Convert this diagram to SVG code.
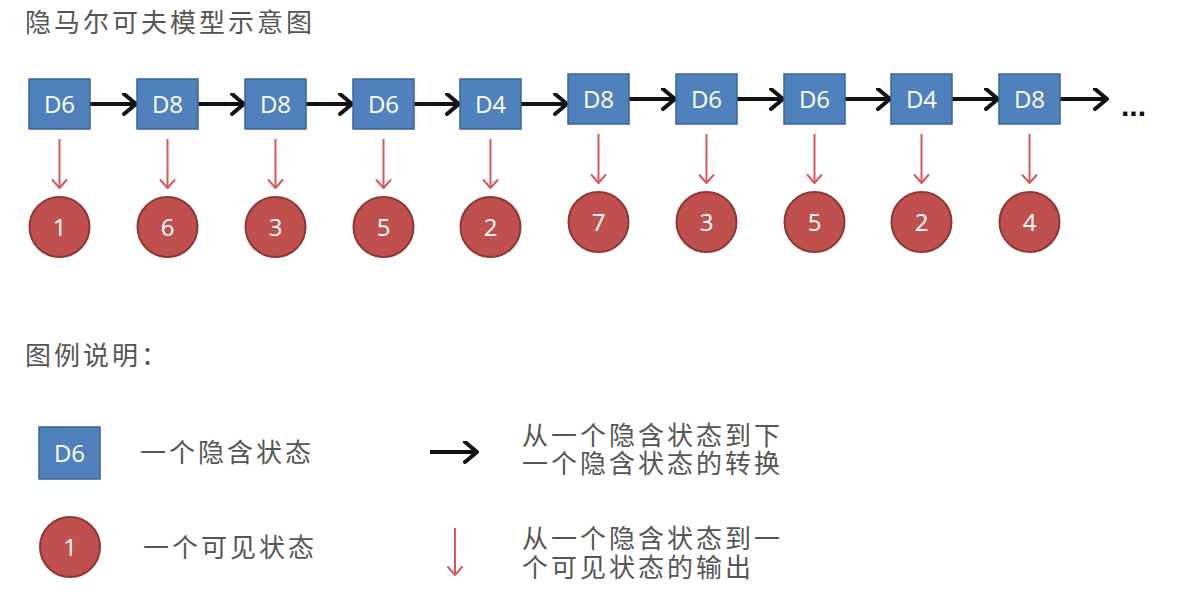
<svg xmlns="http://www.w3.org/2000/svg" width="1178" height="614" viewBox="0 0 1178 614">
<defs>
<style>
.box{fill:#4f81bd;stroke:#3a6496;stroke-width:1.5}
.obs{fill:#c0504d;stroke:#8c3836;stroke-width:2}
.lbl{font-family:"Open Sans","Liberation Sans",sans-serif;font-size:24px;fill:#ffffff;text-anchor:middle}
.cjk{font-family:"Noto Sans CJK SC","Noto Sans",sans-serif;font-size:26px;fill:#555555;letter-spacing:3px}
.tr{stroke:#111111;stroke-width:4;fill:none;marker-end:url(#ah)}
.em{stroke:#d65a5a;stroke-width:2;fill:none;marker-end:url(#rh)}
</style>
<marker id="ah" markerUnits="userSpaceOnUse" markerWidth="20" markerHeight="24" refX="14" refY="11" orient="auto" viewBox="0 0 20 24">
<path d="M2,1 L14,11 L2,21" fill="none" stroke="#111111" stroke-width="4" stroke-linecap="round" stroke-linejoin="round"/>
</marker>
<marker id="rh" markerUnits="userSpaceOnUse" markerWidth="20" markerHeight="20" refX="10" refY="8" orient="auto" viewBox="0 0 20 20">
<path d="M2,1 L10,8 L2,15" fill="none" stroke="#d65a5a" stroke-width="2" stroke-linecap="round" stroke-linejoin="round"/>
</marker>
</defs>
<rect width="1178" height="614" fill="#ffffff"/>
<text class="cjk" x="25" y="32">隐马尔可夫模型示意图</text>
<g id="connectors">
<path class="tr" d="M90,104 H136"/>
<path class="tr" d="M198,104 H244"/>
<path class="tr" d="M306,104 H352"/>
<path class="tr" d="M414,104 H459"/>
<path class="tr" d="M521,104 H567"/>
<path class="tr" d="M629,99 H675"/>
<path class="tr" d="M737,99 H783"/>
<path class="tr" d="M845,99 H890"/>
<path class="tr" d="M952,99 H998"/>
<path class="tr" d="M1060,99 H1107"/>
<path class="em" d="M59.5,139 V188"/>
<path class="em" d="M167.5,139 V188"/>
<path class="em" d="M275.5,139 V188"/>
<path class="em" d="M383.5,139 V188"/>
<path class="em" d="M490.5,139 V188"/>
<path class="em" d="M598.5,134 V183"/>
<path class="em" d="M706.5,134 V183"/>
<path class="em" d="M814.5,134 V183"/>
<path class="em" d="M921.5,134 V183"/>
<path class="em" d="M1029.5,134 V183"/>
</g>
<text x="1121" y="116" font-family="'Liberation Sans',sans-serif" font-size="30" font-weight="bold" fill="#111111">...</text>
<g id="h1"><rect class="box" x="29" y="79" width="61" height="50"/><text class="lbl" x="59.5" y="113">D6</text></g>
<g id="h2"><rect class="box" x="137" y="79" width="61" height="50"/><text class="lbl" x="167.5" y="113">D8</text></g>
<g id="h3"><rect class="box" x="245" y="79" width="61" height="50"/><text class="lbl" x="275.5" y="113">D8</text></g>
<g id="h4"><rect class="box" x="353" y="79" width="61" height="50"/><text class="lbl" x="383.5" y="113">D6</text></g>
<g id="h5"><rect class="box" x="460" y="79" width="61" height="50"/><text class="lbl" x="490.5" y="113">D4</text></g>
<g id="h6"><rect class="box" x="568" y="74" width="61" height="50"/><text class="lbl" x="598.5" y="108">D8</text></g>
<g id="h7"><rect class="box" x="676" y="74" width="61" height="50"/><text class="lbl" x="706.5" y="108">D6</text></g>
<g id="h8"><rect class="box" x="784" y="74" width="61" height="50"/><text class="lbl" x="814.5" y="108">D6</text></g>
<g id="h9"><rect class="box" x="891" y="74" width="61" height="50"/><text class="lbl" x="921.5" y="108">D4</text></g>
<g id="h10"><rect class="box" x="999" y="74" width="61" height="50"/><text class="lbl" x="1029.5" y="108">D8</text></g>
<g id="o1"><circle class="obs" cx="59.5" cy="227" r="30"/><text class="lbl" x="59.5" y="236">1</text></g>
<g id="o2"><circle class="obs" cx="167.5" cy="227" r="30"/><text class="lbl" x="167.5" y="236">6</text></g>
<g id="o3"><circle class="obs" cx="275.5" cy="227" r="30"/><text class="lbl" x="275.5" y="236">3</text></g>
<g id="o4"><circle class="obs" cx="383.5" cy="227" r="30"/><text class="lbl" x="383.5" y="236">5</text></g>
<g id="o5"><circle class="obs" cx="490.5" cy="227" r="30"/><text class="lbl" x="490.5" y="236">2</text></g>
<g id="o6"><circle class="obs" cx="598.5" cy="222" r="30"/><text class="lbl" x="598.5" y="231">7</text></g>
<g id="o7"><circle class="obs" cx="706.5" cy="222" r="30"/><text class="lbl" x="706.5" y="231">3</text></g>
<g id="o8"><circle class="obs" cx="814.5" cy="222" r="30"/><text class="lbl" x="814.5" y="231">5</text></g>
<g id="o9"><circle class="obs" cx="921.5" cy="222" r="30"/><text class="lbl" x="921.5" y="231">2</text></g>
<g id="o10"><circle class="obs" cx="1029.5" cy="222" r="30"/><text class="lbl" x="1029.5" y="231">4</text></g>
<text class="cjk" x="25" y="365">图例说明：</text>
<g id="legend-hidden"><rect class="box" x="39" y="427" width="61" height="52"/><text class="lbl" x="69.5" y="462">D6</text></g>
<text class="cjk" x="140" y="462">一个隐含状态</text>
<g id="legend-visible"><circle class="obs" cx="70" cy="547" r="30"/><text class="lbl" x="70" y="556">1</text></g>
<text class="cjk" x="143" y="557">一个可见状态</text>
<g id="legend-connectors">
<path class="tr" d="M430,452 H477"/>
<path class="em" d="M455,528 V575"/>
</g>
<text class="cjk" x="522" y="445">从一个隐含状态到下<tspan x="522" dy="28">一个隐含状态的转换</tspan></text>
<text class="cjk" x="522" y="548">从一个隐含状态到一<tspan x="522" dy="29">个可见状态的输出</tspan></text>
</svg>
